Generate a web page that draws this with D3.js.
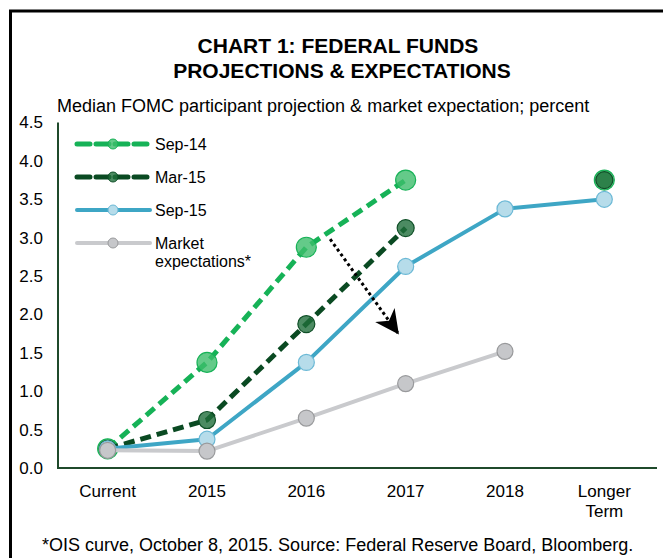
<!DOCTYPE html>
<html>
<head>
<meta charset="utf-8">
<script src="https://cdn.jsdelivr.net/npm/d3@7/dist/d3.min.js"></script>
<style>
  html, body { margin: 0; padding: 0; background: #fff; }
  svg { display: block; font-family: "Liberation Sans", Arial, sans-serif; }
</style>
</head>
<body>
<svg id="chart" width="663" height="558"></svg>
<script>
// ----- data -----
const categories = ['Current', '2015', '2016', '2017', '2018', 'Longer Term'];
const yTicks = [0, 0.5, 1, 1.5, 2, 2.5, 3, 3.5, 4, 4.5];

// null = no value for that horizon (line breaks there)
const sep14  = [0.25, 1.375, 2.875, 3.75, null, 3.75];
const mar15  = [0.25, 0.625, 1.875, 3.125, null, 3.75];
const sep15  = [0.25, 0.375, 1.375, 2.625, 3.375, 3.5];
const market = [0.23, 0.22, 0.65, 1.10, 1.52, null];

const seriesNames = ['Sep-14', 'Mar-15', 'Sep-15', 'Market expectations*'];

// ----- styles -----
const styles = {
  'Sep-14': { line: '#16b257', width: 5, dash: '11,6', fill: '#3dbd6c', stroke: '#17b257', r: 10, fillOp: 0.8 },
  'Mar-15': { line: '#0a4a22', width: 5, dash: '11,6', fill: '#1f6e3b', stroke: '#0f4f27', r: 8.5, fillOp: 0.8 },
  'Sep-15': { line: '#3ea6c5', width: 4, dash: null, fill: '#b6dcea', stroke: '#6cb9d6', r: 8, fillOp: 1 },
  'Market expectations*': { line: '#c9cacd', width: 4, dash: null, fill: '#c6c7ca', stroke: '#999a9c', r: 8, fillOp: 1 }
};
const seriesValues = [sep14, mar15, sep15, market];

const svg = d3.select('#chart');
const W = 663, H = 558;
const axisColor = '#1f4a2b';

// frame (top + left rule)
svg.append('line').attr('x1', 9).attr('x2', W).attr('y1', 11).attr('y2', 11)
  .attr('stroke', '#000').attr('stroke-width', 3);
svg.append('line').attr('x1', 10.5).attr('x2', 10.5).attr('y1', 10).attr('y2', H)
  .attr('stroke', '#000').attr('stroke-width', 3);

// titles
svg.append('text').attr('x', 338).attr('y', 53).attr('text-anchor', 'middle')
  .attr('font-size', 21).attr('font-weight', 'bold').text('CHART 1: FEDERAL FUNDS');
svg.append('text').attr('x', 342).attr('y', 78).attr('text-anchor', 'middle')
  .attr('font-size', 21).attr('font-weight', 'bold').text('PROJECTIONS & EXPECTATIONS');
svg.append('text').attr('x', 57).attr('y', 112).attr('font-size', 18)
  .text('Median FOMC participant projection & market expectation; percent');

// footnote
svg.append('text').attr('x', 42).attr('y', 551).attr('font-size', 18)
  .text('*OIS curve, October 8, 2015. Source: Federal Reserve Board, Bloomberg.');

// ----- scales -----
const x = d3.scalePoint().domain(categories).range([58, 654]).padding(0.5);
const y = d3.scaleLinear().domain([0, 4.5]).range([468, 122.5]);

// axes
svg.append('line').attr('x1', 58).attr('x2', 58).attr('y1', y(4.5)).attr('y2', y(0))
  .attr('stroke', axisColor).attr('stroke-width', 2);
svg.append('line').attr('x1', 57).attr('x2', 657).attr('y1', y(0)).attr('y2', y(0))
  .attr('stroke', axisColor).attr('stroke-width', 2);

svg.append('g').selectAll('text').data(yTicks).join('text')
  .attr('x', 43).attr('y', d => y(d)).attr('dy', '0.35em')
  .attr('text-anchor', 'end').attr('font-size', 17)
  .text(d => d3.format('.1f')(d));

const xl = svg.append('g').selectAll('text').data(categories).join('text')
  .attr('x', d => x(d)).attr('y', 497).attr('text-anchor', 'middle').attr('font-size', 17);
xl.each(function(d) {
  const parts = d.split(' ');
  d3.select(this).selectAll('tspan').data(parts).join('tspan')
    .attr('x', x(d)).attr('dy', (p, i) => i === 0 ? 0 : 20).text(p => p);
});

// ----- lines and markers -----
const lineGen = d3.line()
  .defined(d => d.v != null)
  .x(d => x(d.c))
  .y(d => y(d.v));

seriesNames.forEach((name, i) => {
  const st = styles[name];
  const pts = categories.map((c, j) => ({ c, v: seriesValues[i][j] }));
  const g = svg.append('g');
  g.append('path').datum(pts)
    .attr('d', lineGen)
    .attr('fill', 'none')
    .attr('stroke', st.line)
    .attr('stroke-width', st.width)
    .attr('stroke-dasharray', st.dash)
    .attr('stroke-linejoin', 'round');
  g.selectAll('circle').data(pts.filter(d => d.v != null)).join('circle')
    .attr('cx', d => x(d.c)).attr('cy', d => y(d.v)).attr('r', st.r)
    .attr('fill', st.fill).attr('fill-opacity', st.fillOp)
    .attr('stroke', st.stroke).attr('stroke-width', 1.2);
});

// ----- arrow annotation (dotted, pointing down) -----
const step = x.step();
const arrowFrom = { cat: '2016', off: 0.24, v: 2.98 };
const arrowTo   = { cat: '2016', off: 0.92, v: 1.76 };

svg.append('defs').append('marker')
  .attr('id', 'arrowhead')
  .attr('viewBox', '0 0 24 24')
  .attr('refX', 22).attr('refY', 12)
  .attr('markerWidth', 24).attr('markerHeight', 24)
  .attr('markerUnits', 'userSpaceOnUse')
  .attr('orient', 'auto')
  .append('path')
  .attr('d', 'M0,0 L24,12 L0,24 L7,12 Z')
  .attr('fill', '#000');

svg.append('line')
  .attr('x1', x(arrowFrom.cat) + arrowFrom.off * step)
  .attr('y1', y(arrowFrom.v))
  .attr('x2', x(arrowTo.cat) + arrowTo.off * step)
  .attr('y2', y(arrowTo.v))
  .attr('stroke', '#000').attr('stroke-width', 3)
  .attr('stroke-dasharray', '3,3')
  .attr('marker-end', 'url(#arrowhead)');

// ----- legend -----
const legY = [144, 177, 210, 243];
const legend = svg.append('g');
seriesNames.forEach((name, i) => {
  const st = styles[name];
  const g = legend.append('g').attr('transform', `translate(0,${legY[i]})`);
  g.append('line').attr('x1', 77).attr('x2', 150).attr('y1', 0).attr('y2', 0)
    .attr('stroke', st.line).attr('stroke-width', st.width)
    .attr('stroke-dasharray', st.dash ? '13,6' : null)
    .attr('stroke-linecap', 'round');
  g.append('circle').attr('cx', 113).attr('cy', 0).attr('r', 5)
    .attr('fill', st.fill).attr('fill-opacity', st.fillOp)
    .attr('stroke', st.stroke).attr('stroke-width', 1);
  const parts = name === 'Market expectations*' ? ['Market', 'expectations*'] : [name];
  const t = g.append('text').attr('x', 155).attr('y', 0).attr('dy', '0.35em').attr('font-size', 16);
  t.selectAll('tspan').data(parts).join('tspan')
    .attr('x', 155).attr('dy', (p, k) => k === 0 ? '0.35em' : '1.15em').text(p => p);
});
</script>
</body>
</html>
